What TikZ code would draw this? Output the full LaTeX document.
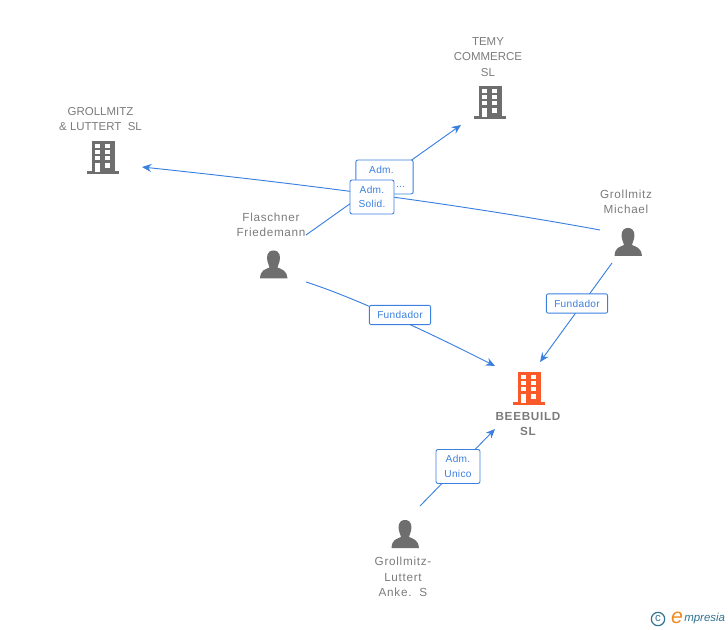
\documentclass[tikz,border=0pt]{standalone}
\usepackage{fontspec}
\setmainfont{Liberation Sans}
\newfontfamily\namefont[LetterSpace=6]{Liberation Sans}
\newfontfamily\mainfont[LetterSpace=6]{Liberation Sans}
\newfontfamily\tagfont[LetterSpace=3]{Liberation Sans}
\usepackage{tikz}
\usetikzlibrary{positioning,arrows.meta}
\definecolor{linkblue}{HTML}{3B80E0}
\definecolor{icongray}{HTML}{6E6E6E}
\definecolor{namegray}{HTML}{7B7B7B}
\definecolor{iconorange}{HTML}{FA5A2A}
\definecolor{logoteal}{HTML}{2F7391}
\definecolor{logoorange}{HTML}{F08A1D}
\tikzset{
  caplabel/.style={text=namegray,align=center,inner sep=0pt,font=\fontsize{8.6}{11.6}\selectfont},
  namelabel/.style={caplabel,font=\namefont\fontsize{8.8}{11.6}\selectfont},
  mainlabel/.style={caplabel,font=\mainfont\fontsize{8.8}{11.6}\selectfont\bfseries},
  tagbox/.style={draw=linkblue,rounded corners=1.5pt,fill=white,text=linkblue,align=center,
    inner sep=0pt,line width=0.65pt,font=\tagfont\fontsize{7.6}{11}\selectfont},
  linkline/.style={draw=linkblue,line width=0.7pt},
  linkarrow/.style={linkline,-{Stealth[length=7pt,width=6pt]}},
  pics/building/.style={code={
    \fill[#1] (-11,-16) rectangle (12,15);
    \fill[#1] (-16,14) rectangle (16,17.5);
    \foreach \yy in {-13,-7,-1} {
      \fill[white] (-8,\yy) rectangle (-3,\yy+4.5);
      \fill[white] (2,\yy) rectangle (7,\yy+4.5);
    }
    \fill[white] (-8,6) rectangle (-3,15);
    \fill[white] (2,6) rectangle (7,11);
  }},
  pics/person/.style={code={
    \fill[icongray] (0,-14) .. controls (-7,-14) and (-7,-7) .. (-6,-3)
      .. controls (-5.5,0) and (-4,1) .. (-4,3)
      .. controls (-8,5) and (-13,5) .. (-13.5,14) -- (14,14)
      .. controls (13,5) and (8,5) .. (4,3)
      .. controls (4,1) and (5.5,0) .. (6,-3)
      .. controls (7,-7) and (7,-14) .. (0,-14) -- cycle;
  }}
}
\begin{document}
\begin{tikzpicture}[x=0.75pt,y=-0.75pt]
  \useasboundingbox (0,0) rectangle (728,630);
  % names
  \node[caplabel] (grollmitzsl) at (100.5,119) {GROLLMITZ\\\& LUTTERT\ \ SL};
  \node[caplabel] (temy) at (488,57) {TEMY\\COMMERCE\\SL};
  \node[namelabel] (michael) at (626,202) {Grollmitz\\Michael};
  \node[namelabel] (flaschner) at (271,225) {Flaschner\\Friedemann};
  \node[mainlabel] (beebuild) at (528,424) {BEEBUILD\\SL};
  \node[namelabel] (anke) at (403,577) {Grollmitz-\\Luttert\\Anke.\ \ S};
  % icons
  \pic at (103,157) {building=icongray};
  \pic at (490,102) {building=icongray};
  \pic at (529,388) {building=iconorange};
  \pic at (628,242) {person};
  \pic at (273.5,264.5) {person};
  \pic at (405,534) {person};
  % line ends
  \coordinate (grollmitzin) at (142,167);
  \coordinate (temyin) at (461,125);
  \coordinate (beeleft) at (495,366);
  \coordinate (beeright) at (540,362);
  \coordinate (beebottom) at (495,429);
  \coordinate (michaelleft) at (600,230);
  \coordinate (michaeldown) at (612,263);
  \coordinate (flaschnerup) at (306,235);
  \coordinate (flaschnerdown) at (306,282);
  \coordinate (ankeup) at (420,506);
  % connectors
  \draw[linkarrow] (michaelleft) .. controls (480,208) and (340,188) .. (grollmitzin);
  \draw[linkarrow] (flaschnerup) -- (temyin);
  \draw[linkarrow] (flaschnerdown) .. controls (350,296) and (420,328) .. (beeleft);
  \draw[linkarrow] (michaeldown) -- (beeright);
  \draw[linkarrow] (ankeup) -- (beebottom);
  % tags
  \node[tagbox,minimum width=43pt,minimum height=25.5pt] (admone) at (384.5,177) {Adm.\rule{4.5pt}{0pt}\\\phantom{Solid.}\hspace{4pt}...};
  \node[tagbox,minimum width=33pt,minimum height=25.5pt] (admtwo) at (372,197) {Adm.\\Solid.};
  \node[tagbox,minimum width=46pt,minimum height=14.5pt] (fundone) at (400,315) {Fundador};
  \node[tagbox,minimum width=46pt,minimum height=14.5pt] (fundtwo) at (577,303.5) {Fundador};
  \node[tagbox,minimum width=33pt,minimum height=25.5pt] (admthree) at (458,466.5) {Adm.\\Unico};
  % logo
  \node[circle,draw=logoteal,line width=0.9pt,inner sep=0pt,minimum size=10pt,text=logoteal,font=\fontsize{8.5}{8.5}\selectfont] (copyr) at (658,619) {c};
  \node[inner sep=0pt,text=logoorange,font=\itshape\fontsize{16}{16}\selectfont] (logoe) at (677,618) {e};
  \node[inner sep=0pt,text=logoteal,anchor=west,font=\itshape\fontsize{8.6}{10}\selectfont] (logotext) at (684,619) {mpresia};
\end{tikzpicture}
\end{document}
